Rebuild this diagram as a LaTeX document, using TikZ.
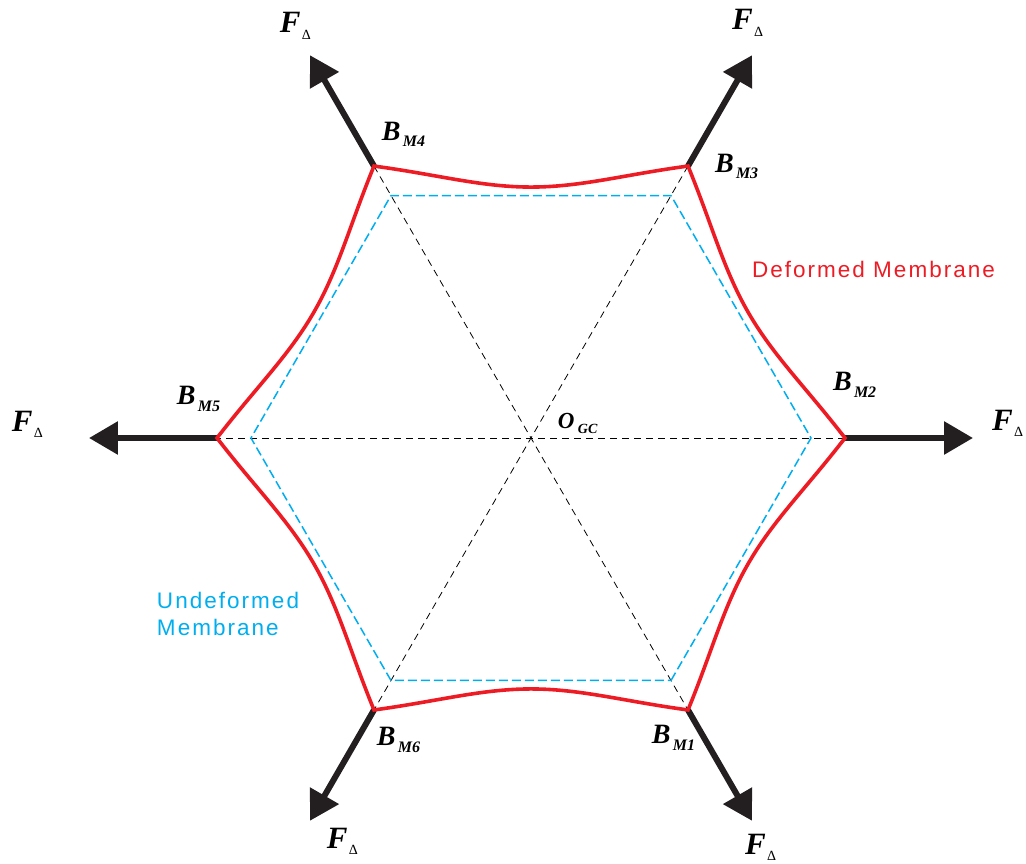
\documentclass[tikz,border=0pt]{standalone}
\usepackage{fontspec}
\setmainfont{Liberation Serif}
\newfontfamily\sansf[LetterSpace=9]{Liberation Sans}
\usetikzlibrary{arrows.meta,calc}
\definecolor{memred}{HTML}{ED1C24}
\definecolor{memblue}{HTML}{00AEEF}
\definecolor{forceblack}{HTML}{231F20}
\newcommand\bsub[2]{\makebox[21pt][l]{\fontsize{28}{28}\selectfont\bfseries\itshape #1}\raisebox{-7pt}{\fontsize{16}{16}\selectfont\bfseries\itshape #2}}
\newcommand\fdelta{\makebox[22pt][l]{\fontsize{31}{31}\selectfont\bfseries\itshape F}\raisebox{-6.5pt}{\fontsize{14}{14}\selectfont\mdseries\upshape Δ}}
\begin{document}
\begin{tikzpicture}[x=1pt,y=1pt,
  redline/.style={draw=memred,line width=3.6pt,line join=miter},
  blueline/.style={draw=memblue,line width=1.5pt,dash pattern=on 9pt off 4pt},
  axisline/.style={draw=black,line width=0.8pt,dash pattern=on 7pt off 5pt},
  force/.style={draw=forceblack,line width=6pt,-{Triangle[length=29pt,width=32pt]}},
  lab/.style={inner sep=0pt,outer sep=0pt,anchor=base west},
  memtext/.style={inner sep=0pt,outer sep=0pt,anchor=base west,font=\sansf\fontsize{22.5}{27}\selectfont}]
\useasboundingbox (-531,-425) rectangle (495,438);
\coordinate (O) at (0,0);
\foreach \i/\a in {1/-60,2/0,3/60,4/120,5/180,6/240}{
  \coordinate (B\i) at (\a:314);
  \coordinate (U\i) at (\a:280);
  \coordinate (T\i) at (\a:442);
}
\foreach \i/\j in {1/2,2/3,3/4,4/5,5/6,6/1}{
  \coordinate (Pa\i) at ($(B\i)!0.2!(B\j)!8.4pt!90:(B\j)$);
  \coordinate (Pb\i) at ($(B\i)!0.34!(B\j)!21pt!90:(B\j)$);
  \coordinate (M\i) at ($(B\i)!0.5!(B\j)!21pt!90:(B\j)$);
  \coordinate (Pc\i) at ($(B\i)!0.66!(B\j)!21pt!90:(B\j)$);
  \coordinate (Pd\i) at ($(B\i)!0.8!(B\j)!8.4pt!90:(B\j)$);
}
% axes
\draw[axisline] (B2) -- (B5);
\draw[axisline] (B3) -- (B6);
\draw[axisline] (B4) -- (B1);
% undeformed
\draw[blueline] (U1) -- (U2) -- (U3) -- (U4) -- (U5) -- (U6) -- cycle;
% forces
\foreach \i in {1,...,6}{\draw[force] (B\i) -- (T\i);}
% deformed
\draw[redline] (B1) .. controls (Pa1) and (Pb1) .. (M1) .. controls (Pc1) and (Pd1) .. (B2)
  .. controls (Pa2) and (Pb2) .. (M2) .. controls (Pc2) and (Pd2) .. (B3)
  .. controls (Pa3) and (Pb3) .. (M3) .. controls (Pc3) and (Pd3) .. (B4)
  .. controls (Pa4) and (Pb4) .. (M4) .. controls (Pc4) and (Pd4) .. (B5)
  .. controls (Pa5) and (Pb5) .. (M5) .. controls (Pc5) and (Pd5) .. (B6)
  .. controls (Pa6) and (Pb6) .. (M6) .. controls (Pc6) and (Pd6) .. cycle;
% vertex labels
\node[lab] (lB1) at (121,-305) {\bsub{B}{M1}};
\node[lab] (lB2) at (302,48) {\bsub{B}{M2}};
\node[lab] (lB3) at (184,266) {\bsub{B}{M3}};
\node[lab] (lB4) at (-149,298) {\bsub{B}{M4}};
\node[lab] (lB5) at (-354,34) {\bsub{B}{M5}};
\node[lab] (lB6) at (-154,-307) {\bsub{B}{M6}};
\node[lab] (lO) at (27,10) {\makebox[20pt][l]{\fontsize{23}{23}\selectfont\bfseries\itshape O}\raisebox{-5pt}{\fontsize{14}{14}\selectfont\bfseries\itshape GC}};
% force labels
\node[lab] (lF1) at (214,-416) {\fdelta};
\node[lab] (lF2) at (461,8) {\fdelta};
\node[lab] (lF3) at (201,408) {\fdelta};
\node[lab] (lF4) at (-251,405) {\fdelta};
\node[lab] (lF5) at (-519,7) {\fdelta};
\node[lab] (lF6) at (-204,-410) {\fdelta};
% membrane texts
\node[memtext,text=memred] (tdef) at (221,161) {Deformed Membrane};
\node[memtext,text=memblue,align=left] (tund) at (-374,-197) {Undeformed\\Membrane};
\end{tikzpicture}
\end{document}
